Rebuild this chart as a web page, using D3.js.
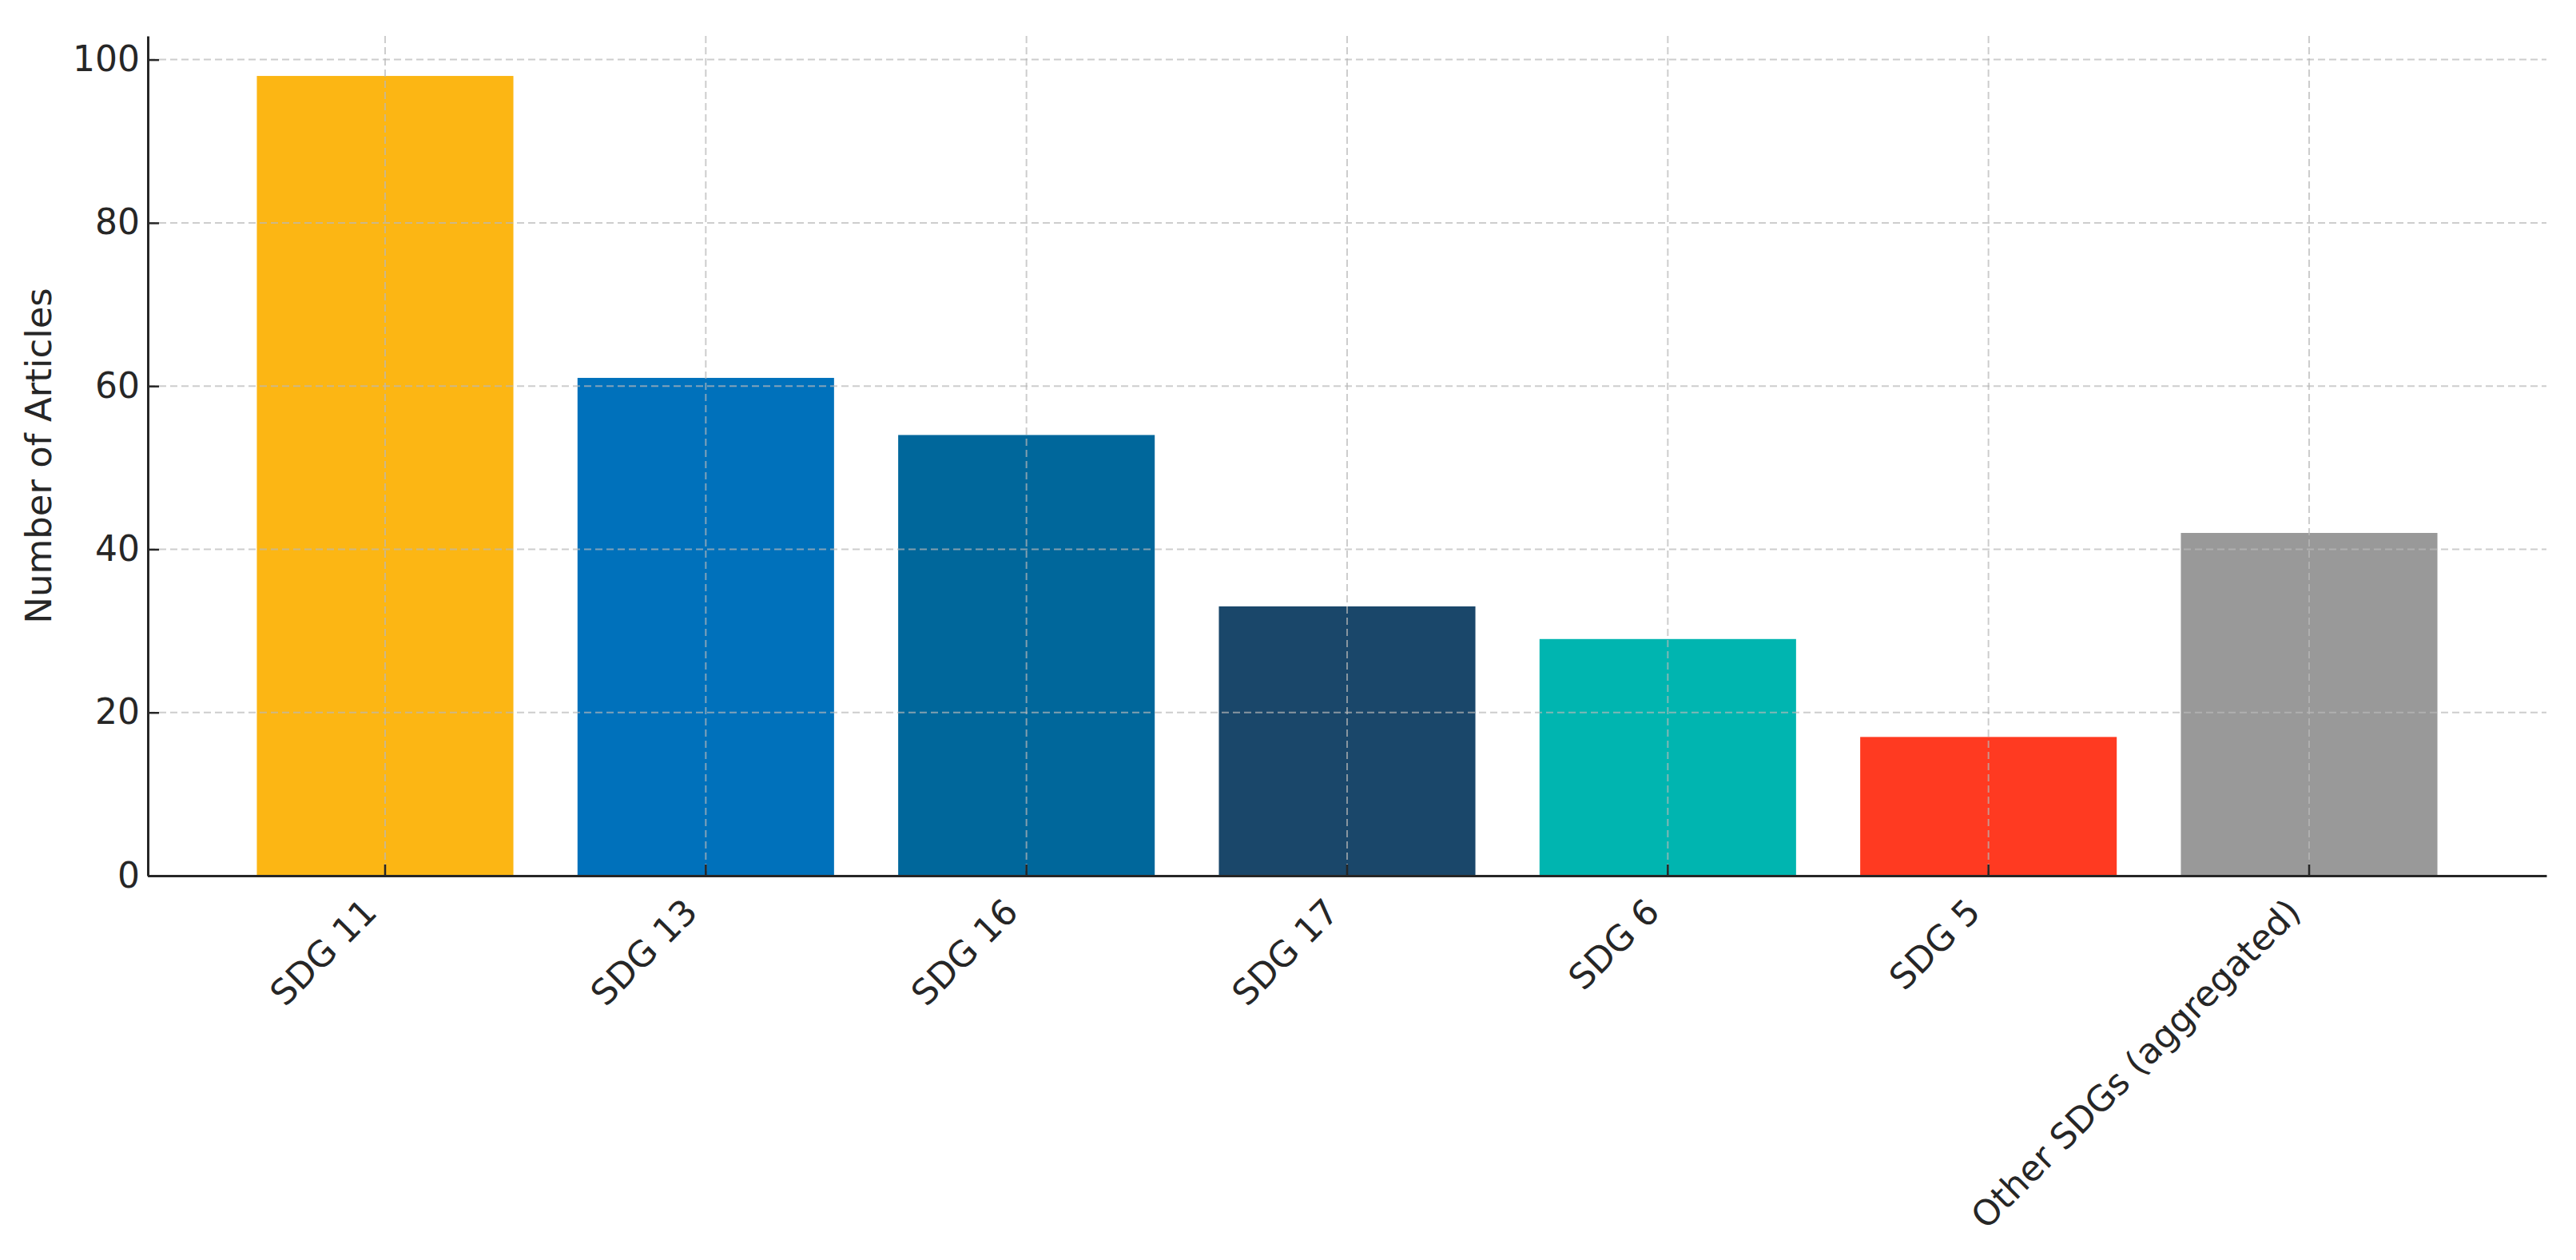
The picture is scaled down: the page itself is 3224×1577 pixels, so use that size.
<!DOCTYPE html>
<html lang="en">

<head>
    <meta charset="utf-8">
    <script src="https://cdn.jsdelivr.net/npm/d3@7"></script>
    <title>Articles per SDG</title>
    <style>
        body { margin: 0; background: #fff; }
        text { font-family: "DejaVu Sans", sans-serif; fill: #262626; }
    </style>
</head>

<body>
    <svg width="3224" height="1577" id="plot"></svg>
    <script>
    // data
    const categories = ["SDG 11", "SDG 13", "SDG 16", "SDG 17", "SDG 6", "SDG 5", "Other SDGs (aggregated)"]
    const articles = [98, 61, 54, 33, 29, 17, 42]
    const barColors = ["#FCB614", "#0071BB", "#00679B", "#1A476A", "#00B5B0", "#FF3A21", "#999999"]
    const yTicks = [0, 20, 40, 60, 80, 100]

    const plotLeft = 185, plotRight = 3187, plotTop = 45, plotBottom = 1096

    let svg = d3.select("#plot")

    // X scale: matplotlib-like bar width 0.8 and 5% margins
    let scaleX = d3.scaleBand()
        .domain(categories)
        .range([plotLeft, plotRight])
        .paddingInner(0.2)
        .paddingOuter(0.34)

    let scaleY = d3.scaleLinear()
        .domain([0, d3.max(articles) * 1.05])
        .range([plotBottom, plotTop])

    const centre = d => scaleX(d) + scaleX.bandwidth() / 2

    // bars
    svg.append("g").selectAll("rect")
        .data(categories)
        .enter()
        .append("rect")
        .attr("x", d => scaleX(d))
        .attr("width", scaleX.bandwidth())
        .attr("y", (d, i) => scaleY(articles[i]))
        .attr("height", (d, i) => plotBottom - scaleY(articles[i]))
        .attr("fill", (d, i) => barColors[i])

    // grid on top of bars
    let grid = svg.append("g")
        .attr("stroke", "#b8b8b8")
        .attr("stroke-opacity", 0.7)
        .attr("stroke-width", 2)
        .attr("stroke-dasharray", "9,5")

    grid.selectAll(".hgrid")
        .data(yTicks)
        .enter()
        .append("line")
        .attr("x1", plotLeft).attr("x2", plotRight)
        .attr("y1", d => scaleY(d)).attr("y2", d => scaleY(d))

    grid.selectAll(".vgrid")
        .data(categories)
        .enter()
        .append("line")
        .attr("x1", centre).attr("x2", centre)
        .attr("y1", plotTop).attr("y2", plotBottom)

    // Y axis
    let axisY = d3.axisLeft(scaleY)
        .tickValues(yTicks)
        .tickSizeInner(-14)
        .tickSizeOuter(0)
        .tickPadding(10)

    let gy = svg.append("g")
        .attr("transform", `translate(${plotLeft},0)`)
        .call(axisY)
    gy.select(".domain").attr("stroke", "#262626").attr("stroke-width", 3)
    gy.selectAll(".tick line").attr("stroke", "#262626").attr("stroke-width", 2.5)
    gy.selectAll(".tick text")
        .attr("x", -10)
        .style("font-size", "44px")
        .style("font-family", "DejaVu Sans")
        .attr("fill", "#262626")

    // X axis
    let axisX = d3.axisBottom(scaleX)
        .tickSizeInner(-14)
        .tickSizeOuter(0)

    let gx = svg.append("g")
        .attr("transform", `translate(0,${plotBottom})`)
        .call(axisX)
    gx.select(".domain").attr("stroke", "#262626").attr("stroke-width", 3)
    gx.selectAll(".tick line").attr("stroke", "#262626").attr("stroke-width", 2.5)
    gx.selectAll(".tick text")
        .attr("x", 0).attr("y", 0).attr("dy", null)
        .attr("text-anchor", "end")
        .attr("transform", "translate(-8,48) rotate(-45)")
        .style("font-size", "44px")
        .style("font-family", "DejaVu Sans")
        .attr("fill", "#262626")

    // y label
    svg.append("text")
        .text("Number of Articles")
        .attr("transform", `translate(64,${(plotTop + plotBottom) / 2}) rotate(-90)`)
        .attr("text-anchor", "middle")
        .style("font-size", "45px")
    </script>
</body>

</html>
